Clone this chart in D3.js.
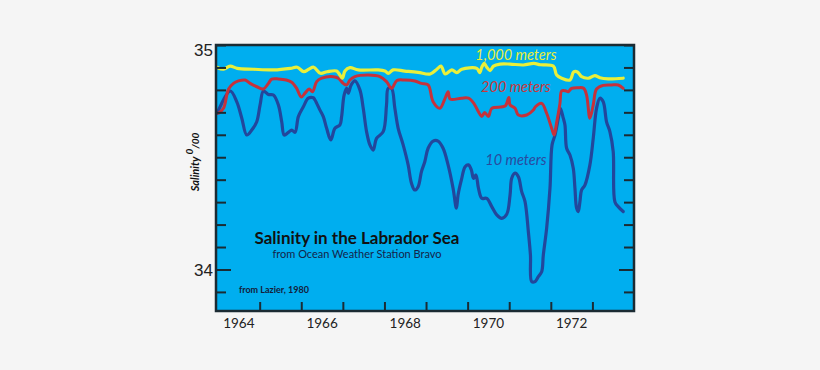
<!DOCTYPE html>
<html>
<head>
<meta charset="utf-8">
<script src="https://d3js.org/d3.v7.min.js"></script>
<style>
  body { margin: 0; background: #f5f5f5; }
  svg { display: block; }
</style>
</head>
<body>
<div id="chart"></div>
<script>
// salinity readings, [year, salinity per mille]
var depth10 = [
  [1963.98,34.696],[1964.29,34.795],[1964.45,34.747],[1964.57,34.674],[1964.69,34.599],[1964.81,34.621],
  [1964.93,34.658],[1965.01,34.733],[1965.09,34.795],[1965.21,34.780],[1965.33,34.777],[1965.45,34.733],
  [1965.53,34.658],[1965.59,34.599],[1965.69,34.611],[1965.77,34.621],[1965.85,34.611],[1965.93,34.681],
  [1966.05,34.725],[1966.17,34.763],[1966.29,34.765],[1966.33,34.755],[1966.45,34.710],[1966.53,34.681],
  [1966.61,34.629],[1966.71,34.577],[1966.81,34.629],[1966.93,34.644],[1966.97,34.681],[1967.03,34.777],
  [1967.09,34.807],[1967.13,34.785],[1967.20,34.822],[1967.29,34.840],[1967.41,34.800],[1967.49,34.718],
  [1967.57,34.614],[1967.65,34.555],[1967.73,34.532],[1967.81,34.584],[1967.97,34.614],[1968.05,34.733],
  [1968.09,34.807],[1968.17,34.807],[1968.25,34.718],[1968.33,34.629],[1968.45,34.555],[1968.57,34.466],
  [1968.65,34.384],[1968.73,34.354],[1968.81,34.369],[1968.89,34.436],[1968.97,34.480],[1969.05,34.540],
  [1969.17,34.572],[1969.29,34.572],[1969.41,34.540],[1969.53,34.466],[1969.65,34.362],[1969.73,34.273],
  [1969.77,34.332],[1969.85,34.399],[1969.94,34.458],[1970.02,34.466],[1970.09,34.443],[1970.14,34.406],
  [1970.20,34.421],[1970.26,34.362],[1970.34,34.317],[1970.46,34.317],[1970.58,34.280],[1970.70,34.243],
  [1970.82,34.228],[1970.94,34.246],[1971.02,34.332],[1971.06,34.406],[1971.14,34.429],[1971.22,34.413],
  [1971.30,34.347],[1971.38,34.302],[1971.46,34.168],[1971.51,34.065],[1971.54,33.946],[1971.62,33.946],
  [1971.70,33.968],[1971.78,33.990],[1971.82,34.065],[1971.90,34.184],[1971.98,34.362],[1972.03,34.555],
  [1972.10,34.599],[1972.18,34.674],[1972.23,34.718],[1972.30,34.674],[1972.34,34.644],[1972.38,34.540],
  [1972.46,34.510],[1972.54,34.451],[1972.58,34.362],[1972.62,34.273],[1972.66,34.258],[1972.70,34.302],
  [1972.74,34.354],[1972.82,34.376],[1972.94,34.466],[1973.02,34.584],[1973.10,34.718],[1973.18,34.763],
  [1973.26,34.747],[1973.34,34.658],[1973.42,34.614],[1973.50,34.525],[1973.54,34.302],[1973.62,34.280],
  [1973.74,34.258]
];

var depth200 = [
  [1964.01,34.696],[1964.13,34.718],[1964.25,34.803],[1964.37,34.829],[1964.49,34.840],[1964.65,34.844],
  [1964.77,34.829],[1964.93,34.814],[1965.09,34.804],[1965.21,34.829],[1965.29,34.848],[1965.45,34.849],
  [1965.64,34.844],[1965.77,34.834],[1965.89,34.807],[1966.00,34.768],[1966.10,34.788],[1966.19,34.804],
  [1966.27,34.792],[1966.37,34.837],[1966.49,34.852],[1966.77,34.859],[1966.89,34.852],[1967.01,34.829],
  [1967.09,34.822],[1967.17,34.844],[1967.29,34.859],[1967.61,34.866],[1967.89,34.859],[1968.05,34.837],
  [1968.17,34.807],[1968.30,34.842],[1968.49,34.844],[1968.73,34.840],[1968.89,34.829],[1969.05,34.822],
  [1969.17,34.747],[1969.33,34.718],[1969.45,34.759],[1969.53,34.792],[1969.58,34.759],[1969.85,34.763],
  [1970.02,34.763],[1970.16,34.737],[1970.26,34.703],[1970.34,34.682],[1970.41,34.699],[1970.50,34.682],
  [1970.58,34.718],[1970.90,34.728],[1970.99,34.766],[1971.02,34.733],[1971.14,34.718],[1971.22,34.688],
  [1971.42,34.688],[1971.58,34.710],[1971.63,34.725],[1971.78,34.740],[1971.90,34.696],[1972.02,34.629],
  [1972.08,34.599],[1972.14,34.655],[1972.22,34.740],[1972.26,34.795],[1972.35,34.796],[1972.42,34.792],
  [1972.50,34.807],[1972.66,34.810],[1972.79,34.807],[1972.86,34.777],[1972.94,34.674],[1973.02,34.733],
  [1973.10,34.804],[1973.26,34.820],[1973.46,34.822],[1973.62,34.822],[1973.74,34.807]
];

var depth1000 = [
  [1963.97,34.901],[1964.13,34.892],[1964.29,34.906],[1964.46,34.896],[1964.85,34.892],[1965.34,34.889],
  [1965.74,34.896],[1965.90,34.901],[1966.06,34.881],[1966.18,34.892],[1966.30,34.901],[1966.46,34.874],
  [1966.62,34.881],[1966.85,34.884],[1966.93,34.866],[1966.99,34.852],[1967.05,34.884],[1967.17,34.899],
  [1967.37,34.889],[1967.85,34.889],[1968.01,34.884],[1968.09,34.874],[1968.21,34.889],[1968.49,34.884],
  [1968.81,34.878],[1969.10,34.871],[1969.26,34.892],[1969.36,34.906],[1969.46,34.871],[1969.62,34.889],
  [1969.74,34.877],[1969.86,34.892],[1970.22,34.896],[1970.29,34.877],[1970.34,34.901],[1970.40,34.918],
  [1970.46,34.901],[1970.54,34.886],[1970.62,34.906],[1970.78,34.915],[1971.02,34.915],[1971.34,34.911],
  [1971.59,34.918],[1971.75,34.912],[1972.06,34.906],[1972.14,34.866],[1972.26,34.852],[1972.46,34.844],
  [1972.55,34.880],[1972.64,34.880],[1972.74,34.859],[1972.90,34.852],[1973.06,34.864],[1973.18,34.854],
  [1973.38,34.849],[1973.74,34.852]
];

// axis ticks and labels
var yTicks = [33.9, 34.0, 34.1, 34.2, 34.3, 34.4, 34.5, 34.6, 34.7, 34.8, 34.9, 35.0];
var yLabels = [34, 35];
var yearTicks = [1965, 1966, 1967, 1968, 1969, 1970, 1971, 1972, 1973];
var yearLabels = [1964, 1966, 1968, 1970, 1972];

var svgWidth = 820;
var svgHeight = 370;
var margin = { top: 45, right: 186, bottom: 59, left: 216 };
var width = svgWidth - margin.left - margin.right;
var height = svgHeight - margin.top - margin.bottom;

var svg = d3.select("#chart")
  .append("svg")
  .attr("width", svgWidth)
  .attr("height", svgHeight)
  .style("font-family", "Lato, 'Open Sans', sans-serif");

svg.append("rect")
  .attr("width", svgWidth)
  .attr("height", svgHeight)
  .attr("fill", "#f5f5f5");

var chartGroup = svg.append("g")
  .attr("transform", `translate(${margin.left}, ${margin.top})`);

var xScale = d3.scaleLinear().domain([1963.95, 1974]).range([0, width]);
var yScale = d3.scaleLinear().domain([33.815, 35]).range([height, 0]);

// blue water background
chartGroup.append("rect")
  .attr("width", width)
  .attr("height", height)
  .attr("fill", "#00aeef");

chartGroup.append("clipPath")
  .attr("id", "plot-clip")
  .append("rect")
  .attr("width", width)
  .attr("height", height);

var line = d3.line()
  .x(d => xScale(d[0]))
  .y(d => yScale(d[1]))
  .curve(d3.curveCatmullRom.alpha(0.5));

var series = [
  { data: depth10, color: "#22479c", w: 3.2 },
  { data: depth200, color: "#c6323b", w: 3 },
  { data: depth1000, color: "#e9ef3a", w: 3.2 }
];

chartGroup.append("g")
  .attr("clip-path", "url(#plot-clip)")
  .selectAll("path")
  .data(series)
  .enter()
  .append("path")
  .attr("d", d => line(d.data))
  .attr("fill", "none")
  .attr("stroke", d => d.color)
  .attr("stroke-width", d => d.w)
  .attr("stroke-linejoin", "round")
  .attr("stroke-linecap", "round");

// left axis, ticks point into the plot
var leftAxis = d3.axisLeft(yScale)
  .tickValues(yTicks)
  .tickSize(-10)
  .tickPadding(3)
  .tickFormat(d => yLabels.indexOf(Math.round(d * 10) / 10) >= 0 ? d3.format("d")(d) : "");

var gLeft = chartGroup.append("g").call(leftAxis);
gLeft.select(".domain").remove();
gLeft.selectAll(".tick line")
  .attr("stroke", "#1b2b33")
  .attr("stroke-width", 2)
  .attr("x2", d => Math.abs(d - 34) < 1e-6 ? 15 : 10);
gLeft.selectAll(".tick text")
  .attr("font-size", "17px")
  .attr("fill", "#222")
  .attr("dy", d => d === 35 ? "0.62em" : "0.34em");

// right axis mirrors the left
var rightAxis = d3.axisRight(yScale)
  .tickValues(yTicks)
  .tickSize(-10)
  .tickFormat("");

var gRight = chartGroup.append("g")
  .attr("transform", `translate(${width}, 0)`)
  .call(rightAxis);
gRight.select(".domain").remove();
gRight.selectAll(".tick line")
  .attr("stroke", "#1b2b33")
  .attr("stroke-width", 2)
  .attr("x2", d => Math.abs(d - 34) < 1e-6 ? -15 : -10);

// year boundaries
var bottomAxis = d3.axisBottom(xScale)
  .tickValues(yearTicks)
  .tickSize(-9)
  .tickFormat("");

var gBottom = chartGroup.append("g")
  .attr("transform", `translate(0, ${height})`)
  .call(bottomAxis);
gBottom.select(".domain").remove();
gBottom.selectAll(".tick line")
  .attr("stroke", "#1b2b33")
  .attr("stroke-width", 2);

// year labels sit in the middle of each year
chartGroup.append("g")
  .selectAll("text")
  .data(yearLabels)
  .enter()
  .append("text")
  .attr("x", d => xScale(d + 0.5))
  .attr("y", height + 17)
  .attr("text-anchor", "middle")
  .attr("font-size", "13.5px")
  .attr("fill", "#222")
  .text(d => d);

// plot frame
chartGroup.append("rect")
  .attr("width", width)
  .attr("height", height)
  .attr("fill", "none")
  .attr("stroke", "#1b2b33")
  .attr("stroke-width", 2.5);

// series labels
var labels = [
  { text: "1,000 meters", x: 1971.16, y: 34.935, color: "#e9ef3a" },
  { text: "200 meters", x: 1971.16, y: 34.79, color: "#c8383d" },
  { text: "10 meters", x: 1971.16, y: 34.465, color: "#2a4a9e" }
];

chartGroup.selectAll(".series-label")
  .data(labels)
  .enter()
  .append("text")
  .attr("class", "series-label")
  .attr("x", d => xScale(d.x))
  .attr("y", d => yScale(d.y))
  .attr("text-anchor", "middle")
  .attr("font-size", "14.5px")
  .attr("font-style", "italic")
  .attr("fill", d => d.color)
  .text(d => d.text);

// title block
chartGroup.append("text")
  .attr("x", 141)
  .attr("y", 199)
  .attr("text-anchor", "middle")
  .attr("font-size", "17px")
  .attr("font-weight", "bold")
  .attr("fill", "#111")
  .text("Salinity in the Labrador Sea");

chartGroup.append("text")
  .attr("x", 141)
  .attr("y", 213)
  .attr("text-anchor", "middle")
  .attr("font-size", "11px")
  .attr("fill", "#14244a")
  .text("from Ocean Weather Station Bravo");

chartGroup.append("text")
  .attr("x", 23)
  .attr("y", 248)
  .attr("font-size", "9px")
  .attr("font-weight", "bold")
  .attr("fill", "#14203a")
  .text("from Lazier, 1980");

// y axis title
var yTitle = svg.append("text")
  .attr("transform", "translate(199, 162) rotate(-90)")
  .attr("text-anchor", "middle")
  .attr("font-size", "11px")
  .attr("font-style", "italic")
  .attr("font-weight", "bold")
  .attr("fill", "#111");

yTitle.append("tspan").text("Salinity ");
yTitle.append("tspan").attr("dy", "-0.6em").attr("font-size", "10px").text("0");
yTitle.append("tspan").attr("dy", "0.6em").attr("font-size", "10px").text("/00");
</script>
</body>
</html>
